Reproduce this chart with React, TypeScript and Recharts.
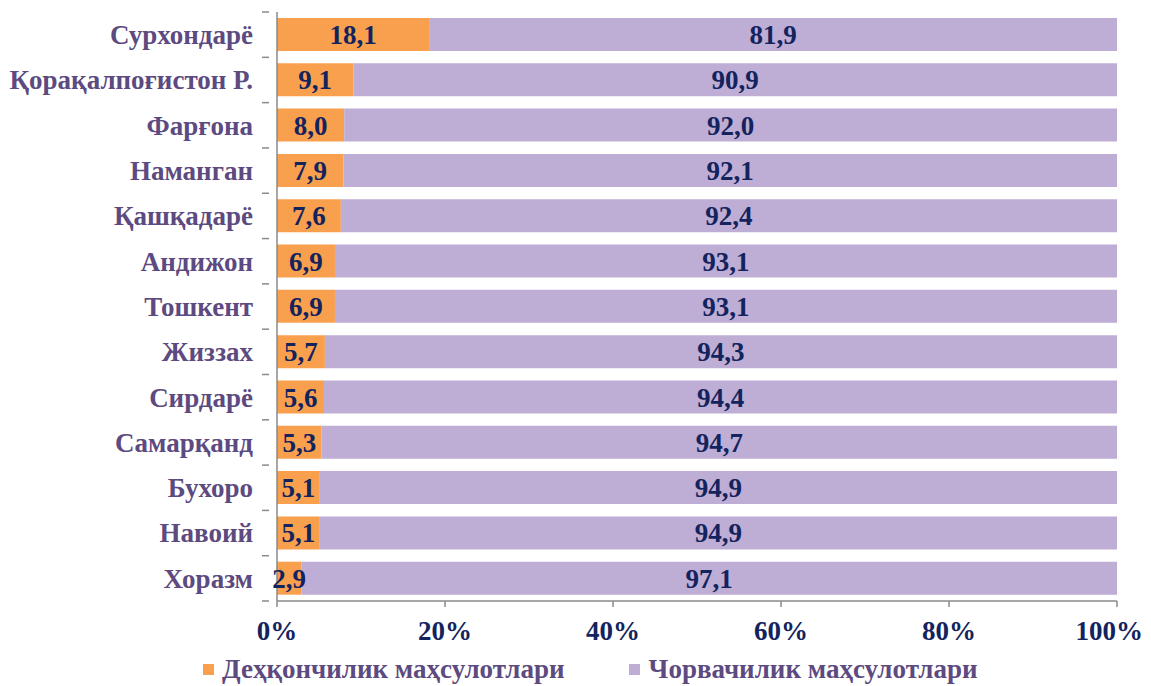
import React from "react";
import { BarChart, Bar, XAxis, YAxis, Legend, LabelList } from "recharts";

const regions = [
  "Сурхондарё",
  "Қорақалпоғистон Р.",
  "Фарғона",
  "Наманган",
  "Қашқадарё",
  "Андижон",
  "Тошкент",
  "Жиззах",
  "Сирдарё",
  "Самарқанд",
  "Бухоро",
  "Навоий",
  "Хоразм",
];
const crops = [18.1, 9.1, 8.0, 7.9, 7.6, 6.9, 6.9, 5.7, 5.6, 5.3, 5.1, 5.1, 2.9];
const livestock = [81.9, 90.9, 92.0, 92.1, 92.4, 93.1, 93.1, 94.3, 94.4, 94.7, 94.9, 94.9, 97.1];
const xTicks = [0, 20, 40, 60, 80, 100];
const seriesNames = ["Деҳқончилик маҳсулотлари", "Чорвачилик маҳсулотлари"];

const ORANGE = "#F9A04E";
const PURPLE = "#BEADD4";
const NAVY = "#13235E";
const LABEL_PURPLE = "#5C4A80";
const AXIS_GRAY = "#8A8A8A";
const FONT = "'Liberation Serif', 'Times New Roman', serif";

const data = regions.map((name, i) => ({ name, crops: crops[i], livestock: livestock[i] }));

const fmt = (v: any) => Number(v).toFixed(1).replace(".", ",");

const CHART_W = 1135;
const CHART_H = 678;
const BAND = 45.25;

const YTick = (props: any) => {
  const { x, y, payload, index } = props;
  const axisX = x;
  return (
    <g>
      <line x1={axisX - 7} x2={axisX} y1={y - BAND / 2} y2={y - BAND / 2} stroke={AXIS_GRAY} strokeWidth={1.5} />
      {index === regions.length - 1 && (
        <line x1={axisX - 7} x2={axisX} y1={y + BAND / 2} y2={y + BAND / 2} stroke={AXIS_GRAY} strokeWidth={1.5} />
      )}
      <text
        x={x - 16}
        y={y}
        dy="0.35em"
        textAnchor="end"
        fill={LABEL_PURPLE}
        fontFamily={FONT}
        fontWeight="bold"
        fontSize={27}
      >
        {payload.value}
      </text>
    </g>
  );
};

const LegendContent = () => (
  <div
    style={{
      height: 33,
      display: "flex",
      alignItems: "center",
      fontFamily: FONT,
      fontWeight: "bold",
      fontSize: 27,
      color: LABEL_PURPLE,
      paddingLeft: 195,
    }}
  >
    <span style={{ display: "inline-block", width: 11, height: 11, background: ORANGE, marginRight: 8 }} />
    <span style={{ marginRight: 64 }}>{seriesNames[0]}</span>
    <span style={{ display: "inline-block", width: 11, height: 11, background: PURPLE, marginRight: 9 }} />
    <span>{seriesNames[1]}</span>
  </div>
);

export default function App() {
  return (
    <BarChart
      width={CHART_W}
      height={CHART_H}
      data={data}
      layout="vertical"
      margin={{ top: 4, right: 26, left: 0, bottom: 0 }}
    >
      <XAxis
        type="number"
        domain={[0, 100]}
        ticks={xTicks}
        tickFormatter={(v: any) => `${v}%`}
        height={52}
        stroke={AXIS_GRAY}
        strokeWidth={1.5}
        tickSize={6}
        tickMargin={14}
        tick={{ fill: NAVY, fontFamily: FONT, fontWeight: "bold", fontSize: 27 }}
      />
      <YAxis
        type="category"
        dataKey="name"
        width={269}
        stroke={AXIS_GRAY}
        strokeWidth={1.5}
        tickLine={false}
        tick={<YTick />}
        interval={0}
      />
      <Legend verticalAlign="bottom" content={<LegendContent />} />
      <Bar dataKey="crops" stackId="a" fill={ORANGE} barSize={33} isAnimationActive={false} name={seriesNames[0]}>
        <LabelList
          dataKey="crops"
          position="center"
          formatter={fmt}
          fill={NAVY}
          style={{ fontFamily: FONT, fontWeight: "bold", fontSize: 27 }}
        />
      </Bar>
      <Bar dataKey="livestock" stackId="a" fill={PURPLE} barSize={33} isAnimationActive={false} name={seriesNames[1]}>
        <LabelList
          dataKey="livestock"
          position="center"
          formatter={fmt}
          fill={NAVY}
          style={{ fontFamily: FONT, fontWeight: "bold", fontSize: 27 }}
        />
      </Bar>
    </BarChart>
  );
}
